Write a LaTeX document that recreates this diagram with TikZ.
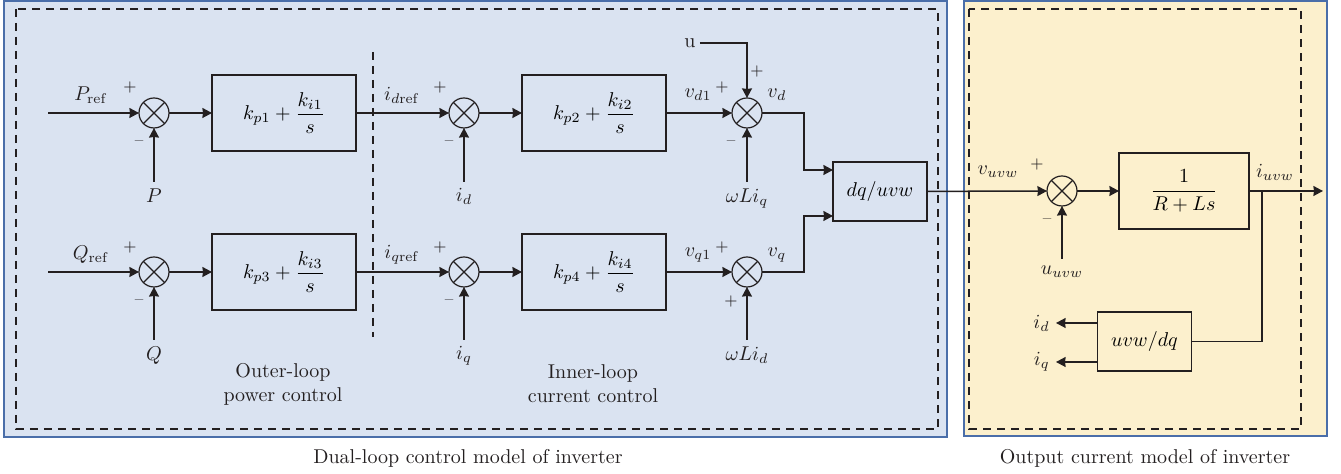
\documentclass[tikz,border=0pt]{standalone}
\usepackage{amsmath}
\usepackage{tikz}
\usetikzlibrary{arrows.meta,positioning,calc}
\definecolor{panelblue}{HTML}{DAE3F1}
\definecolor{panelyellow}{HTML}{FCF0CD}
\definecolor{frameblue}{HTML}{4A6EA9}
\definecolor{ink}{HTML}{231F20}
\tikzset{
    every picture/.style={line join=miter},
    sumnode/.style={draw=ink,circle,line width=0.6pt,minimum size=15pt,
      inner sep=0pt,outer sep=0pt,
      path picture={\draw[ink,line width=0.6pt]
        (path picture bounding box.north west)--(path picture bounding box.south east)
        (path picture bounding box.north east)--(path picture bounding box.south west);}},
    blockbox/.style={draw=ink,line width=0.7pt,minimum width=72pt,minimum height=38pt,
      inner sep=2pt,outer sep=0pt,align=center},
    convbox/.style={blockbox,minimum width=47pt,minimum height=29.5pt},
    siglabel/.style={text=ink,inner sep=3pt},
    signmark/.style={text=ink,inner sep=0pt,font=\footnotesize},
    panelframe/.style={draw=frameblue,line width=0.8pt},
    innerframe/.style={draw=ink,line width=0.6pt,dash pattern=on 4pt off 3pt},
    sigline/.style={draw=ink,line width=0.75pt},
    sigarrow/.style={sigline,-{Stealth[length=4.8pt,width=5pt,inset=0.3pt]}}
}

\begin{document}
\begin{tikzpicture}[x=0.5pt,y=-0.5pt,font=\normalsize]
    \useasboundingbox (0,0) rectangle (1341,474);
    % panels
    \fill[panelblue,panelframe] (4,1) rectangle (947,437);
    \draw[innerframe] (16,9) rectangle (938,429);
    \fill[panelyellow,panelframe] (964,1) rectangle (1327,436);
    \draw[innerframe] (969,9) rectangle (1301,429);
    \draw[innerframe] (373,52) -- (373,337);

    % d axis
    \node[sumnode] (s1) at (154,113) {};
    \node[blockbox,right=21.5pt of s1] (b1) {$\displaystyle k_{p1}+\frac{k_{i1}}{s}$};
    \node[sumnode,right=46.5pt of b1] (s2) {};
    \node[blockbox,right=21.5pt of s2] (b2) {$\displaystyle k_{p2}+\frac{k_{i2}}{s}$};
    \node[sumnode,right=33pt of b2] (s3) {};
    % q axis
    \node[sumnode,below=64.5pt of s1] (s4) {};
    \node[blockbox,right=21.5pt of s4] (b3) {$\displaystyle k_{p3}+\frac{k_{i3}}{s}$};
    \node[sumnode,right=46.5pt of b3] (s5) {};
    \node[blockbox,right=21.5pt of s5] (b4) {$\displaystyle k_{p4}+\frac{k_{i4}}{s}$};
    \node[sumnode,right=33pt of b4] (s6) {};

    \node[convbox] (dq) at (880,191.5) {$dq/uvw$};

    % output current model
    \node[sumnode] (s7) at (1062,191) {};
    \node[blockbox,minimum width=65pt,right=21pt of s7] (b5) {$\displaystyle\frac{1}{R+Ls}$};
    \node[convbox] (fb) at (1144.5,341.5) {$uvw/dq$};

    % signal names
    \coordinate (pin) at (48,113);
    \coordinate (qin) at (48,272);
    \node[siglabel] (Pref) at (91,95) {$P_{\mathrm{ref}}$};
    \node[siglabel] (Qref) at (91,255) {$Q_{\mathrm{ref}}$};
    \node[siglabel,anchor=north] (P) at (154,182) {$P$};
    \node[siglabel,anchor=north] (Q) at (154,340) {$Q$};
    \node[siglabel] (idref) at (402,95) {$i_{d\mathrm{ref}}$};
    \node[siglabel] (iqref) at (402,255) {$i_{q\mathrm{ref}}$};
    \node[siglabel,anchor=north] (id) at (464,182) {$i_d$};
    \node[siglabel,anchor=north] (iq) at (464,340) {$i_q$};
    \node[siglabel] (vd1) at (698,95) {$v_{d1}$};
    \node[siglabel] (vq1) at (698,255) {$v_{q1}$};
    \node[siglabel,anchor=north] (wLiq) at (747,182) {$\omega Li_q$};
    \node[siglabel,anchor=north] (wLid) at (747,340) {$\omega Li_d$};
    \node[siglabel,inner sep=2pt] (u) at (690,43) {u};
    \node[siglabel] (vd) at (777,95) {$v_d$};
    \node[siglabel] (vq) at (777,255) {$v_q$};
    \node[siglabel] (vuvw) at (998,172) {$v_{uvw}$};
    \node[siglabel,anchor=north] (uuvw) at (1062,259) {$u_{uvw}$};
    \node[siglabel] (iuvw) at (1275,172) {$i_{uvw}$};
    \node[siglabel,anchor=east] (idout) at (1056,323) {$i_d$};
    \node[siglabel,anchor=east] (iqout) at (1056,362) {$i_q$};

    % signs
    \node[signmark] at (130,88) {$+$};
    \node[signmark] at (139,143) {--};
    \node[signmark] at (130,248) {$+$};
    \node[signmark] at (139,302) {--};
    \node[signmark] at (440,88) {$+$};
    \node[signmark] at (449,143) {--};
    \node[signmark] at (440,248) {$+$};
    \node[signmark] at (449,302) {--};
    \node[signmark] at (722,88) {$+$};
    \node[signmark] at (757,72) {$+$};
    \node[signmark] at (731,143) {--};
    \node[signmark] at (722,248) {$+$};
    \node[signmark] at (731,302) {$+$};
    \node[signmark] at (1037,165) {$+$};
    \node[signmark] at (1047,221) {--};

    % notes
    \node[text=ink,align=center] (outer) at (283,384) {Outer-loop\\power control};
    \node[text=ink,align=center] (inner) at (593,384) {Inner-loop\\current control};
    \node[text=ink] (cap1) at (468,458) {Dual-loop control model of inverter};
    \node[text=ink] (cap2) at (1145,458) {Output current model of inverter};

    % connectors
    \coordinate (dqa) at (833,170);
    \coordinate (dqb) at (833,216);
    \coordinate (br) at (1262,191);
    \coordinate (iout) at (1323,191);
    \draw[sigarrow] (pin) -- (s1);
    \draw[sigarrow] (s1) -- (b1);
    \draw[sigarrow] (b1) -- (s2);
    \draw[sigarrow] (s2) -- (b2);
    \draw[sigarrow] (b2) -- (s3);
    \draw[sigarrow] (P) -- (s1);
    \draw[sigarrow] (id) -- (s2);
    \draw[sigarrow] (wLiq) -- (s3);
    \draw[sigarrow] (u) -| (s3);
    \draw[sigarrow] (s3) -- ++(57,0) |- (dqa);
    \draw[sigarrow] (qin) -- (s4);
    \draw[sigarrow] (s4) -- (b3);
    \draw[sigarrow] (b3) -- (s5);
    \draw[sigarrow] (s5) -- (b4);
    \draw[sigarrow] (b4) -- (s6);
    \draw[sigarrow] (Q) -- (s4);
    \draw[sigarrow] (iq) -- (s5);
    \draw[sigarrow] (wLid) -- (s6);
    \draw[sigarrow] (s6) -- ++(57,0) |- (dqb);
    \draw[sigarrow] (dq) -- (s7);
    \draw[sigarrow] (uuvw) -- (s7);
    \draw[sigarrow] (s7) -- (b5);
    \draw[sigarrow] (b5) -- (iout);
    \draw[sigline] (br) |- (fb);
    \draw[sigarrow] (fb.west |- idout.east) -- (idout.east);
    \draw[sigarrow] (fb.west |- iqout.east) -- (iqout.east);
\end{tikzpicture}
\end{document}
